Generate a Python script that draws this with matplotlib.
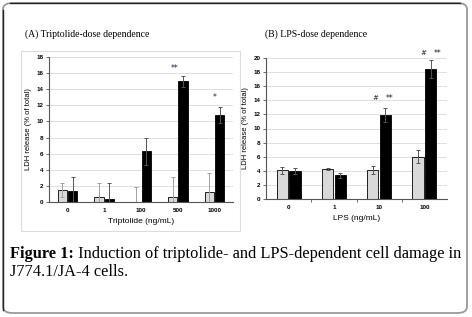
import numpy as np
import matplotlib.pyplot as plt
from matplotlib.patches import FancyBboxPatch, Rectangle
from matplotlib.lines import Line2D

# ---- data ----
trip_labels = ["0", "1", "100", "500", "1000"]
trip_ctrl = [1.5, 0.6, 0.0, 0.6, 1.3]
trip_ctrl_err = [0.9, 1.7, 1.9, 2.5, 2.3]
trip_lps = [1.4, 0.4, 6.3, 15.0, 10.8]
trip_lps_err = [1.7, 1.9, 1.7, 0.7, 1.0]

lps_labels = ["0", "1", "10", "100"]
lps_ctrl = [4.1, 4.2, 4.1, 6.0]
lps_ctrl_err = [0.5, 0.15, 0.6, 0.9]
lps_trip = [4.0, 3.35, 11.9, 18.4]
lps_trip_err = [0.4, 0.35, 1.0, 1.3]

W, H = 472, 317
fig = plt.figure(figsize=(W / 100, H / 100), dpi=100)

def fx(px):
    return px / W

def fy(py):
    return 1 - py / H

# outer rounded box (dark top/left, gray bottom/right)
box = FancyBboxPatch((fx(3), fy(313)), fx(464), fy(3) - fy(313),
                     boxstyle="round,pad=0,rounding_size=0.02",
                     transform=fig.transFigure, fc="none", ec="#9a9a9a", lw=1.3)
fig.patches.append(box)
fig.add_artist(Line2D([fx(2.5), fx(2.5)], [fy(310), fy(10)], color="#222222", lw=1.0))
fig.add_artist(Line2D([fx(10), fx(460)], [fy(2.5), fy(2.5)], color="#222222", lw=1.0))

# light frame around panel A chart area
fig.patches.append(Rectangle((fx(21), fy(231)), fx(219), fy(51) - fy(231),
                             transform=fig.transFigure, fc="none", ec="#dddddd", lw=0.8))

serif = "Liberation Serif"
sans = "Liberation Sans"

def style(ax, ymax):
    for s in ["top", "right"]:
        ax.spines[s].set_visible(False)
    for s in ["left", "bottom"]:
        ax.spines[s].set_color("#555555")
        ax.spines[s].set_linewidth(0.8)
    ax.set_ylim(0, ymax)
    ax.set_yticks(np.arange(0, ymax + 1, 2))
    ax.yaxis.grid(True, color="#d9d9d9", lw=0.6)
    ax.set_axisbelow(True)
    ax.tick_params(axis="y", length=2, width=0.6, color="#555555", pad=2, labelsize=4.5)
    ax.tick_params(axis="x", length=0, pad=4, labelsize=4.5)
    for lab in ax.get_yticklabels() + ax.get_xticklabels():
        lab.set_fontfamily(sans)
        lab.set_fontweight("bold")
    ax.set_ylabel("LDH release (% of total)", fontsize=5.5, family=sans, labelpad=3)

bw = 0.25
off = 0.14

# ---- Panel A ----
axA = fig.add_axes([fx(49), fy(202), fx(184), fy(57) - fy(202)])
x = np.arange(len(trip_labels))
axA.bar(x - off, trip_ctrl, bw, color="#d9d9d9", edgecolor="black", lw=0.6)
axA.bar(x + off, trip_lps, bw, color="black", edgecolor="black", lw=0.6)
axA.errorbar(x - off, trip_ctrl, yerr=trip_ctrl_err, fmt="none", ecolor="#a0a0a0",
             elinewidth=0.7, capsize=1.5, capthick=0.7)
axA.errorbar(x + off, trip_lps, yerr=trip_lps_err, fmt="none", ecolor="#555555",
             elinewidth=0.7, capsize=1.5, capthick=0.7)
axA.set_xlim(-0.5, len(trip_labels) - 0.5)
axA.set_xticks(x)
axA.set_xticklabels(trip_labels)
style(axA, 18)
axA.set_xlabel("Triptolide (ng/mL)", fontsize=6, family=sans, labelpad=4)
axA.text(2.9, 16.6, "**", ha="center", va="center", fontsize=5.5, color="#1a1a40")
axA.text(4.0, 13.0, "*", ha="center", va="center", fontsize=5.5, color="#1a1a40")
fig.text(fx(25), fy(34), "(A) Triptolide-dose dependence", fontsize=7, family=serif,
         va="center")

# ---- Panel B ----
axB = fig.add_axes([fx(266), fy(199), fx(181), fy(58) - fy(199)])
x = np.arange(len(lps_labels))
axB.bar(x - off, lps_ctrl, bw, color="#d9d9d9", edgecolor="black", lw=0.6)
axB.bar(x + off, lps_trip, bw, color="black", edgecolor="black", lw=0.6)
axB.errorbar(x - off, lps_ctrl, yerr=lps_ctrl_err, fmt="none", ecolor="#555555",
             elinewidth=0.7, capsize=1.5, capthick=0.7)
axB.errorbar(x + off, lps_trip, yerr=lps_trip_err, fmt="none", ecolor="#555555",
             elinewidth=0.7, capsize=1.5, capthick=0.7)
axB.set_xlim(-0.5, len(lps_labels) - 0.5)
axB.set_xticks(x)
axB.set_xticklabels(lps_labels)
axB.set_xticks(x[:-1] + 0.5, minor=True)
axB.tick_params(axis="x", which="minor", length=2.5, width=0.6, color="#555555")
style(axB, 20)
axB.set_xlabel("LPS (ng/mL)", fontsize=6, family=sans, labelpad=4)
for xs, ys in [(1.91, 14.3), (2.97, 20.7)]:
    axB.text(xs, ys, "#", ha="center", va="center", fontsize=5, color="#1a1a40", clip_on=False)
    axB.text(xs + 0.32, ys, "**", ha="center", va="center", fontsize=5.5, color="#1a1a40", clip_on=False)
fig.text(fx(265), fy(34), "(B) LPS-dose dependence", fontsize=7, family=serif, va="center")

# ---- caption ----
cap_fs = 11.8
t1 = fig.text(fx(10), fy(254), "Figure 1:", fontsize=cap_fs, family=serif, weight="bold",
              va="center")
fig.add_artist(plt.Annotation(" Induction of triptolide- and LPS-dependent cell damage in",
                              xy=(1, 0.5), xycoords=t1, va="center", ha="left",
                              fontsize=cap_fs, family=serif))
fig.text(fx(10), fy(272), "J774.1/JA-4 cells.", fontsize=cap_fs, family=serif, va="center")

fig.savefig("out.png", dpi=100)
